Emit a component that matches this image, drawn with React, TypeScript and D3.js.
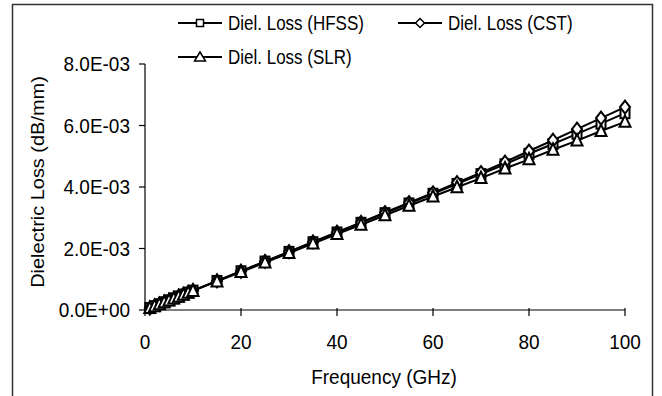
import React from "react";
import * as d3 from "d3";

const freqs = [1, 2, 3, 4, 5, 6, 7, 8, 9, 10, 15, 20, 25, 30, 35, 40, 45, 50, 55, 60, 65, 70, 75, 80, 85, 90, 95, 100];
const hfss = [0.063, 0.126, 0.189, 0.252, 0.315, 0.378, 0.441, 0.504, 0.567, 0.63, 0.945, 1.26, 1.575, 1.89, 2.205, 2.52, 2.835, 3.15, 3.465, 3.78, 4.1, 4.42, 4.74, 5.08, 5.4, 5.73, 6.06, 6.4].map((v) => v * 1e-3);
const cst = [0.063, 0.126, 0.189, 0.252, 0.315, 0.378, 0.441, 0.504, 0.567, 0.63, 0.945, 1.26, 1.58, 1.895, 2.215, 2.53, 2.85, 3.17, 3.49, 3.81, 4.14, 4.47, 4.81, 5.17, 5.52, 5.88, 6.24, 6.6].map((v) => v * 1e-3);
const slr = [0.062, 0.124, 0.186, 0.248, 0.31, 0.372, 0.434, 0.496, 0.558, 0.62, 0.93, 1.235, 1.545, 1.85, 2.16, 2.47, 2.77, 3.08, 3.39, 3.69, 3.99, 4.29, 4.6, 4.9, 5.21, 5.51, 5.82, 6.12].map((v) => v * 1e-3);

const xTicks = [0, 20, 40, 60, 80, 100];
const yTicks = [0, 0.002, 0.004, 0.006, 0.008];
const yTickLabels = ["0.0E+00", "2.0E-03", "4.0E-03", "6.0E-03", "8.0E-03"];
const seriesNames = ["Diel. Loss (HFSS)", "Diel. Loss (CST)", "Diel. Loss (SLR)"];
const markerTypes = ["square", "diamond", "triangle"];

const FONT = "Arial, 'Liberation Sans', sans-serif";

function Marker({ type, x, y, big }: { type: string; x: number; y: number; big?: boolean }) {
  const sw = big ? 2 : 1.5;
  const common = { fill: "#fff", stroke: "#000", strokeWidth: sw };
  if (type === "square") {
    const w = big ? 9 : 7;
    const h = big ? 10 : 7;
    return <rect x={x - w / 2} y={y - h / 2} width={w} height={h} {...common} />;
  }
  if (type === "diamond") {
    const w = big ? 5 : 4.5;
    const h = big ? 6.5 : 4.5;
    return <path d={`M${x},${y - h}L${x + w},${y}L${x},${y + h}L${x - w},${y}Z`} {...common} />;
  }
  const w = big ? 5.5 : 5.5;
  const top = big ? 6.5 : 5;
  const bot = big ? 5 : 4;
  return <path d={`M${x},${y - top}L${x + w},${y + bot}L${x - w},${y + bot}Z`} {...common} />;
}

export default function App() {
  const x = d3.scaleLinear().domain([0, 100]).range([145, 625]);
  const y = d3.scaleLinear().domain([0, 0.008]).range([310, 64]);
  const series = [hfss, cst, slr];
  const line = d3
    .line<number>()
    .x((_, i) => x(freqs[i]))
    .y((d) => y(d));

  const legendItems = [
    { lx: 178, ly: 23 },
    { lx: 398, ly: 23 },
    { lx: 178, ly: 57 },
  ];

  return (
    <svg width={662} height={396} style={{ position: "absolute", left: 0, top: 0, background: "#fff" }} fontFamily={FONT}>
      <rect x={12.5} y={4.5} width={640} height={420} fill="#fff" stroke="#333" strokeWidth={1.5} />
      {/* axes */}
      <line x1={x(0)} x2={x(0)} y1={y(0.008)} y2={y(0)} stroke="#000" strokeWidth={1.2} />
      <line x1={x(0)} x2={x(100)} y1={y(0)} y2={y(0)} stroke="#000" strokeWidth={1.2} />
      {yTicks.map((t, i) => (
        <g key={"y" + i}>
          <line x1={x(0) - 6} x2={x(0)} y1={y(t)} y2={y(t)} stroke="#000" strokeWidth={1.2} />
          <text transform={`translate(130,${y(t)}) scale(1,1.05)`} dy="0.36em" textAnchor="end" fontSize={19}>
            {yTickLabels[i]}
          </text>
        </g>
      ))}
      {xTicks.map((t, i) => (
        <g key={"x" + i}>
          <line x1={x(t)} x2={x(t)} y1={y(0) - 2} y2={y(0) + 6} stroke="#000" strokeWidth={1.2} />
          <text transform={`translate(${x(t)},342) scale(1,1.05)`} dy="0.36em" textAnchor="middle" fontSize={19}>
            {t}
          </text>
        </g>
      ))}
      <text transform={`translate(384,377) scale(1,1.05)`} dy="0.36em" textAnchor="middle" fontSize={19}>
        Frequency (GHz)
      </text>
      <text transform={`translate(37,182) rotate(-90) scale(1.05,1)`} dy="0.36em" textAnchor="middle" fontSize={19}>
        Dielectric Loss (dB/mm)
      </text>
      {/* series */}
      {series.map((s, si) => (
        <g key={"s" + si}>
          <path d={line(s) || ""} fill="none" stroke="#000" strokeWidth={2} />
          {s.map((v, i) => (
            <Marker key={i} type={markerTypes[si]} x={x(freqs[i])} y={y(v)} big />
          ))}
        </g>
      ))}
      {/* legend */}
      {legendItems.map((l, i) => (
        <g key={"l" + i}>
          <line x1={l.lx} x2={l.lx + 44} y1={l.ly} y2={l.ly} stroke="#000" strokeWidth={1.8} />
          <Marker type={markerTypes[i]} x={l.lx + 22} y={l.ly} />
          <text transform={`translate(${l.lx + 50},${l.ly}) scale(1,1.2)`} dy="0.36em" fontSize={17}>
            {seriesNames[i]}
          </text>
        </g>
      ))}
    </svg>
  );
}
